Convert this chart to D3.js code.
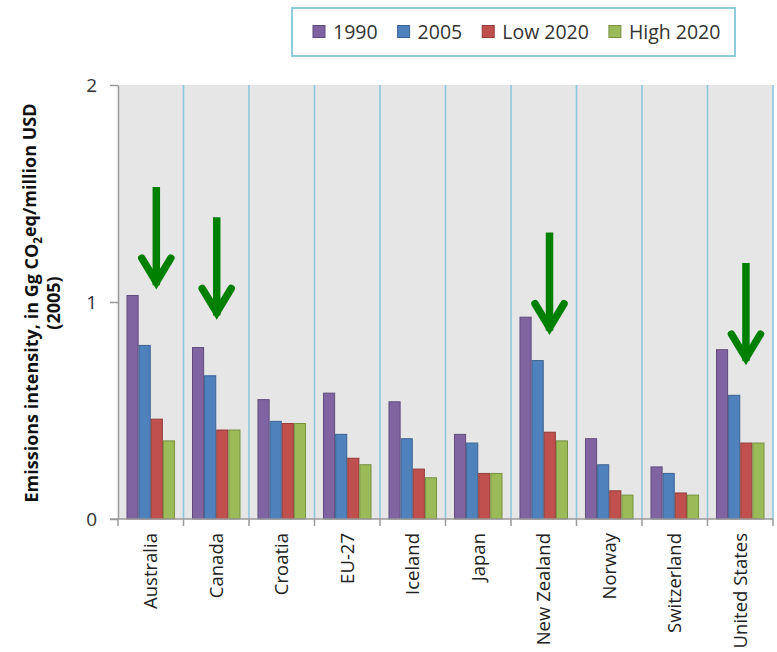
<!DOCTYPE html>
<html>
<head>
<meta charset="utf-8">
<script src="https://cdn.jsdelivr.net/npm/d3@7"></script>
<style>
  html, body { margin: 0; padding: 0; background: #fff; }
  svg { display: block; font-family: "Open Sans", sans-serif; }
</style>
</head>
<body>
<svg id="chart" width="777" height="652"></svg>
<script>
// Emissions intensity by party, Gg CO2eq per million USD (2005)
const categories = ["Australia", "Canada", "Croatia", "EU-27", "Iceland", "Japan",
                    "New Zealand", "Norway", "Switzerland", "United States"];
const seriesNames = ["1990", "2005", "Low 2020", "High 2020"];
const values1990     = [1.03, 0.79, 0.55, 0.58, 0.54, 0.39, 0.93, 0.37, 0.24, 0.78];
const values2005     = [0.80, 0.66, 0.45, 0.39, 0.37, 0.35, 0.73, 0.25, 0.21, 0.57];
const valuesLow2020  = [0.46, 0.41, 0.44, 0.28, 0.23, 0.21, 0.40, 0.13, 0.12, 0.35];
const valuesHigh2020 = [0.36, 0.41, 0.44, 0.25, 0.19, 0.21, 0.36, 0.11, 0.11, 0.35];
const yTicks = [0, 1, 2];

// Highlight arrows: party, start value and end value on the y scale
const arrowParties = ["Australia", "Canada", "New Zealand", "United States"];
const arrowFrom    = [1.53, 1.39, 1.32, 1.18];
const arrowTo      = [1.05, 0.91, 0.84, 0.70];

const seriesValues = [values1990, values2005, valuesLow2020, valuesHigh2020];
const fills   = ["#8064a2", "#4f81bd", "#c0504d", "#9bbb59"];
const strokes = ["#5f4a7d", "#3b6392", "#943c3a", "#77913f"];

const svg = d3.select("#chart");
const plot = { left: 118, right: 773, top: 85, bottom: 519 };

const x = d3.scaleBand().domain(categories).range([plot.left, plot.right]).padding(0);
const x1 = d3.scaleBand().domain(seriesNames).range([0, x.bandwidth()])
  .paddingInner(0).paddingOuter(0.7);
const y = d3.scaleLinear().domain([0, 2]).range([plot.bottom, plot.top]);

// plot background
svg.append("rect")
  .attr("x", plot.left).attr("y", plot.top)
  .attr("width", plot.right - plot.left).attr("height", plot.bottom - plot.top)
  .attr("fill", "#e6e6e6");

// category separators
svg.append("g").selectAll("line")
  .data(categories)
  .join("line")
  .attr("x1", d => x(d) + x.bandwidth()).attr("x2", d => x(d) + x.bandwidth())
  .attr("y1", plot.top).attr("y2", plot.bottom)
  .attr("stroke", "#8ec8dc").attr("stroke-width", 1.6);

// bars
const rows = [];
categories.forEach((c, i) => {
  seriesNames.forEach((s, j) => rows.push({ c, s, j, v: seriesValues[j][i] }));
});
svg.append("g").selectAll("rect")
  .data(rows)
  .join("rect")
  .attr("x", d => x(d.c) + x1(d.s) + 0.5)
  .attr("y", d => y(d.v))
  .attr("width", x1.bandwidth() - 1)
  .attr("height", d => y(0) - y(d.v))
  .attr("fill", d => fills[d.j])
  .attr("stroke", d => strokes[d.j])
  .attr("stroke-width", 1);

// y axis
const yAxis = svg.append("g")
  .attr("transform", `translate(${plot.left},0)`)
  .call(d3.axisLeft(y).tickValues(yTicks).tickFormat(d3.format("d"))
    .tickSize(8).tickSizeOuter(0).tickPadding(13));
yAxis.select(".domain").attr("stroke", "#9a9a9a").attr("stroke-width", 1.5);
yAxis.selectAll(".tick line").attr("stroke", "#9a9a9a").attr("stroke-width", 1.5);
yAxis.selectAll(".tick text").attr("font-size", 19).attr("fill", "#333")
  .attr("font-family", "Open Sans");

// x axis with ticks on category boundaries
const xAxisG = svg.append("g").attr("transform", `translate(0,${plot.bottom})`);
xAxisG.append("line")
  .attr("x1", plot.left - 8).attr("x2", plot.right)
  .attr("stroke", "#9a9a9a").attr("stroke-width", 1.5);
xAxisG.selectAll("line.tk")
  .data([categories[0]].concat(categories))
  .join("line")
  .attr("class", "tk")
  .attr("x1", (d, i) => i === 0 ? x(d) : x(d) + x.bandwidth())
  .attr("x2", (d, i) => i === 0 ? x(d) : x(d) + x.bandwidth())
  .attr("y1", 0).attr("y2", 7)
  .attr("stroke", "#9a9a9a").attr("stroke-width", 1.5);
xAxisG.selectAll("text")
  .data(categories)
  .join("text")
  .attr("transform", d => `translate(${x(d) + x.bandwidth() / 2},14) rotate(-90)`)
  .attr("text-anchor", "end")
  .attr("dy", "0.35em")
  .attr("font-size", 18.5)
  .attr("fill", "#222")
  .text(d => d);

// y axis title
const title = svg.append("text")
  .attr("transform", "translate(32,303) rotate(-90)")
  .attr("text-anchor", "middle")
  .attr("font-weight", "bold")
  .attr("font-size", 18)
  .attr("fill", "#111");
title.append("tspan").attr("x", 0).attr("dy", "0.35em").text("Emissions intensity, in Gg CO");
title.append("tspan").attr("font-size", 11.5).attr("dy", "0.3em").text("2");
title.append("tspan").attr("dy", "-0.3em").text("eq/million USD");
svg.append("text")
  .attr("transform", "translate(54,303) rotate(-90)")
  .attr("text-anchor", "middle")
  .attr("dy", "0.35em")
  .attr("font-weight", "bold")
  .attr("font-size", 18)
  .attr("fill", "#111")
  .text("(2005)");

// arrows
const arrowNudge = [0.085, 0.007, 0.088, 0.087];
const arrows = svg.append("g").attr("stroke", "#008000").attr("fill", "none").attr("stroke-width", 7.5);
arrowParties.forEach((p, i) => {
  const ax = x(p) + x.bandwidth() * (0.5 + arrowNudge[i]);
  const y0 = y(arrowFrom[i]);
  const y1 = y(arrowTo[i]);
  arrows.append("path")
    .attr("d", d3.line()([[ax, y0], [ax, y1 - 6]]))
    .attr("stroke-linecap", "butt");
  arrows.append("path")
    .attr("d", d3.line()([[ax - 14.5, y1 - 33], [ax, y1 - 9], [ax + 14.5, y1 - 33]]))
    .attr("stroke-linejoin", "miter").attr("stroke-miterlimit", 10)
    .attr("stroke-linecap", "round");
});

// legend
const legend = svg.append("g");
legend.append("rect")
  .attr("x", 292).attr("y", 8).attr("width", 443).attr("height", 48)
  .attr("fill", "#fff").attr("stroke", "#8ecbdb").attr("stroke-width", 2);
let lx = 313;
seriesNames.forEach((s, j) => {
  legend.append("rect")
    .attr("x", lx).attr("y", 25.5).attr("width", 12).attr("height", 12)
    .attr("fill", fills[j]).attr("stroke", strokes[j]).attr("stroke-width", 1);
  const t = legend.append("text")
    .attr("x", lx + 20).attr("y", 32).attr("dy", "0.35em")
    .attr("font-size", 19.5).attr("fill", "#333")
    .text(s);
  lx += 20 + t.node().getComputedTextLength() + 20;
});
</script>
</body>
</html>
